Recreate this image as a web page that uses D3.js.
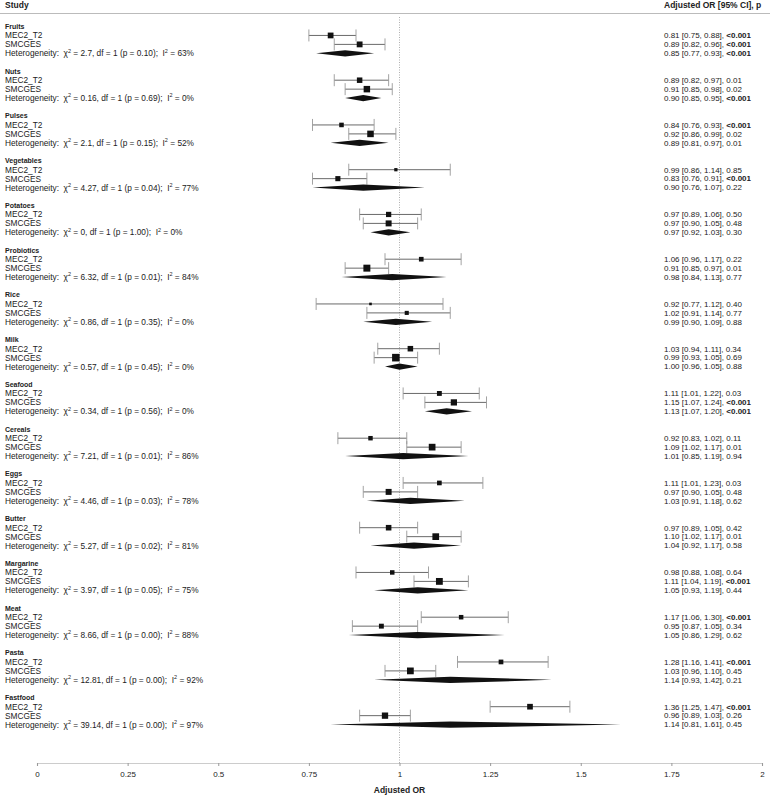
<!DOCTYPE html>
<html>
<head>
<meta charset="utf-8">
<script src="https://cdn.jsdelivr.net/npm/d3@7"></script>
<style>
  body { margin: 0; background: #fff; }
  svg { font-family: "Liberation Sans", Arial, sans-serif; }
</style>
</head>
<body>
<div class="forest-canvas"></div>
<script>
// food groups
const foods = ["Fruits", "Nuts", "Pulses", "Vegetables", "Potatoes", "Probiotics", "Rice", "Milk",
  "Seafood", "Cereals", "Eggs", "Butter", "Margarine", "Meat", "Pasta", "Fastfood"];

const studies = ["MEC2_T2", "SMCGES"];

// [or, lo, hi, p]
const mec2 = [
  [0.81, 0.75, 0.88, "<0.001"], [0.89, 0.82, 0.97, "0.01"], [0.84, 0.76, 0.93, "<0.001"],
  [0.99, 0.86, 1.14, "0.85"], [0.97, 0.89, 1.06, "0.50"], [1.06, 0.96, 1.17, "0.22"],
  [0.92, 0.77, 1.12, "0.40"], [1.03, 0.94, 1.11, "0.34"], [1.11, 1.01, 1.22, "0.03"],
  [0.92, 0.83, 1.02, "0.11"], [1.11, 1.01, 1.23, "0.03"], [0.97, 0.89, 1.05, "0.42"],
  [0.98, 0.88, 1.08, "0.64"], [1.17, 1.06, 1.30, "<0.001"], [1.28, 1.16, 1.41, "<0.001"],
  [1.36, 1.25, 1.47, "<0.001"]
];

const smcges = [
  [0.89, 0.82, 0.96, "<0.001"], [0.91, 0.85, 0.98, "0.02"], [0.92, 0.86, 0.99, "0.02"],
  [0.83, 0.76, 0.91, "<0.001"], [0.97, 0.90, 1.05, "0.48"], [0.91, 0.85, 0.97, "0.01"],
  [1.02, 0.91, 1.14, "0.77"], [0.99, 0.93, 1.05, "0.69"], [1.15, 1.07, 1.24, "<0.001"],
  [1.09, 1.02, 1.17, "0.01"], [0.97, 0.90, 1.05, "0.48"], [1.10, 1.02, 1.17, "0.01"],
  [1.11, 1.04, 1.19, "<0.001"], [0.95, 0.87, 1.05, "0.34"], [1.03, 0.96, 1.10, "0.45"],
  [0.96, 0.89, 1.03, "0.26"]
];

const pooled = [
  [0.85, 0.77, 0.93, "<0.001"], [0.90, 0.85, 0.95, "<0.001"], [0.89, 0.81, 0.97, "0.01"],
  [0.90, 0.76, 1.07, "0.22"], [0.97, 0.92, 1.03, "0.30"], [0.98, 0.84, 1.13, "0.77"],
  [0.99, 0.90, 1.09, "0.88"], [1.00, 0.96, 1.05, "0.88"], [1.13, 1.07, 1.20, "<0.001"],
  [1.01, 0.85, 1.19, "0.94"], [1.03, 0.91, 1.18, "0.62"], [1.04, 0.92, 1.17, "0.58"],
  [1.05, 0.93, 1.19, "0.44"], [1.05, 0.86, 1.29, "0.62"], [1.14, 0.93, 1.42, "0.21"],
  [1.14, 0.81, 1.61, "0.45"]
];

// heterogeneity
const hetChi = ["2.7", "0.16", "2.1", "4.27", "0", "6.32", "0.86", "0.57", "0.34", "7.21", "4.46",
  "5.27", "3.97", "8.66", "12.81", "39.14"];
const hetP = ["0.10", "0.69", "0.15", "0.04", "1.00", "0.01", "0.35", "0.45", "0.56", "0.01", "0.03",
  "0.02", "0.05", "0.00", "0.00", "0.00"];
const hetI2 = [63, 0, 52, 77, 0, 84, 0, 0, 0, 86, 78, 81, 75, 88, 92, 97];

const xTicks = [0, 0.25, 0.5, 0.75, 1, 1.25, 1.5, 1.75, 2];

const width = 770, height = 797;
const rowsPerGroup = 5;
const axisY = 763;

const svg = d3.select(".forest-canvas")
  .append("svg")
  .attr("width", width)
  .attr("height", height);

const x = d3.scaleLinear().domain([0, 2]).range([37, 762]);

const y = d3.scaleLinear()
  .domain([0, foods.length * rowsPerGroup - 1])
  .range([26.5, 26.5 + (foods.length * rowsPerGroup - 1) * 8.95]);

const rowY = (g, r) => y(g * rowsPerGroup + r);

// box size from precision (log CI width)
const boxSize = d => Math.max(2.6, 0.92 / Math.log(d[2] / d[1]));

// header
svg.append("text").attr("x", 5).attr("y", 5).attr("dy", "0.35em")
  .attr("font-size", 8.5).attr("font-weight", "bold").attr("fill", "#222").text("Study");
svg.append("text").attr("x", 664).attr("y", 5).attr("dy", "0.35em")
  .attr("font-size", 8.5).attr("font-weight", "bold").attr("fill", "#222").text("Adjusted OR [95% CI], p");
svg.append("line").attr("x1", 0).attr("x2", width).attr("y1", 13.5).attr("y2", 13.5)
  .attr("stroke", "#bbb").attr("stroke-width", 1.2);

// reference line at 1
svg.append("line")
  .attr("x1", x(1)).attr("x2", x(1))
  .attr("y1", 17).attr("y2", axisY)
  .attr("stroke", "#999").attr("stroke-width", 0.8).attr("stroke-dasharray", "1,1.5");

// axis
const xAxis = g => g
  .attr("transform", `translate(0,${axisY})`)
  .call(d3.axisBottom(x).tickValues(xTicks).tickSize(3).tickFormat(d3.format("")))
  .call(g => g.select(".domain").attr("stroke", "#ccc").attr("stroke-width", 1.2))
  .call(g => g.selectAll(".tick line").attr("stroke", "#999"))
  .call(g => g.selectAll(".tick text").attr("fill", "#222").attr("font-size", 8)
    .attr("font-family", "Liberation Sans, Arial, sans-serif").attr("y", 8));

svg.append("g").call(xAxis);

svg.append("text").attr("x", x(1)).attr("y", 790).attr("dy", "0.35em")
  .attr("text-anchor", "middle").attr("font-size", 8.5).attr("font-weight", "bold")
  .attr("fill", "#222").text("Adjusted OR");

const groups = svg.append("g").selectAll("g")
  .data(foods)
  .join("g");

groups.each(function (food, gi) {
  const g = d3.select(this);
  const rows = [mec2[gi], smcges[gi]];

  g.append("text").attr("x", 5).attr("y", rowY(gi, 0)).attr("dy", "0.35em")
    .attr("font-size", 7).attr("font-weight", "bold").attr("fill", "#222").text(food);

  studies.forEach((s, si) => {
    g.append("text").attr("x", 5).attr("y", rowY(gi, si + 1)).attr("dy", "0.35em")
      .attr("font-size", 8.3).attr("fill", "#222").text(s);
  });

  const het = g.append("text").attr("x", 5).attr("y", rowY(gi, 3) + 2.9)
    .attr("font-size", 8.3).attr("fill", "#222").attr("xml:space", "preserve");
  het.append("tspan").text("Heterogeneity:  \u03c7");
  het.append("tspan").attr("dy", -3.6).attr("font-size", 5.5).text("2");
  het.append("tspan").attr("dy", 3.6).text(` = ${hetChi[gi]}, df = 1 (p = ${hetP[gi]});  I`);
  het.append("tspan").attr("dy", -3.6).attr("font-size", 5.5).text("2");
  het.append("tspan").attr("dy", 3.6).text(` = ${hetI2[gi]}%`);

  // study CIs
  rows.forEach((d, si) => {
    const cy = rowY(gi, si + 1);
    g.append("line").attr("x1", x(d[1])).attr("x2", x(d[2])).attr("y1", cy).attr("y2", cy)
      .attr("stroke", "#444").attr("stroke-width", 0.8);
    [d[1], d[2]].forEach(v => {
      g.append("line").attr("x1", x(v)).attr("x2", x(v)).attr("y1", cy - 6).attr("y2", cy + 6)
        .attr("stroke", "#999").attr("stroke-width", 0.9);
    });
    const s = boxSize(d);
    g.append("rect").attr("x", x(d[0]) - s / 2).attr("y", cy - s / 2)
      .attr("width", s).attr("height", s).attr("fill", "#111");
  });

  // pooled diamond
  const p = pooled[gi];
  const py = rowY(gi, 3);
  g.append("path")
    .attr("d", `M${x(p[1])},${py}L${x(p[0])},${py - 3.2}L${x(p[2])},${py}L${x(p[0])},${py + 3.2}Z`)
    .attr("fill", "#111");

  // right column text
  rows.concat([p]).forEach((d, ri) => {
    const t = g.append("text").attr("x", 664).attr("y", rowY(gi, ri + 1)).attr("dy", "0.35em")
      .attr("font-size", 8).attr("fill", "#222").attr("xml:space", "preserve");
    t.append("tspan").text(`${d[0].toFixed(2)} [${d[1].toFixed(2)}, ${d[2].toFixed(2)}], `);
    t.append("tspan").attr("font-weight", d[3] === "<0.001" ? "bold" : null).text(d[3]);
  });
});
</script>
</body>
</html>
